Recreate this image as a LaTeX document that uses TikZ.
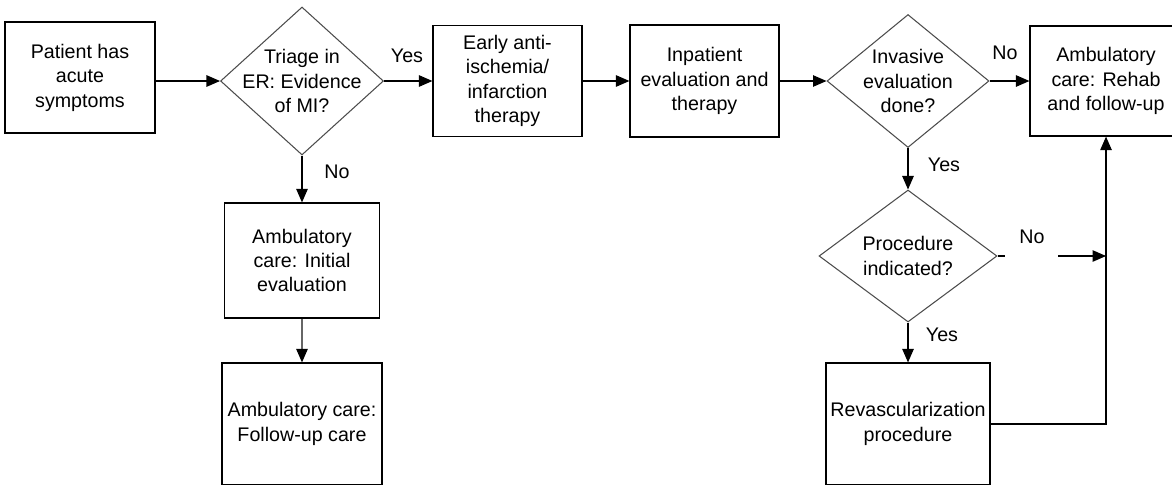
\documentclass[tikz,border=0pt]{standalone}
\usepackage{fontspec}
\setmainfont{Liberation Sans}
\usetikzlibrary{shapes.geometric,arrows.meta}
\begin{document}
\begin{tikzpicture}[x=0.02cm,y=-0.02cm]
\tikzstyle{txt} = [font=\fontsize{11.2}{13.9}\selectfont]
\tikzstyle{box} = [txt,draw=black,line width=0.7pt,align=center,inner sep=2pt]
\tikzstyle{test} = [txt,diamond,draw=black!70,line width=0.6pt,align=center,inner sep=-15pt]
\tikzstyle{arr} = [line width=0.6pt,arrows=-{Triangle[length=0.27cm,width=0.23cm,color=black]}]

\useasboundingbox (0,0) rectangle (1172,484);
\clip (0,0) rectangle (1172,484);

\node[box,minimum width=3cm,minimum height=2.22cm] (pat) at (80,77.5) {Patient has\\acute\\symptoms};
\node[test,minimum width=3.26cm,minimum height=2.96cm] (tri) at (302,81) {Triage in\\ER: Evidence\\of MI?};
\node[box,minimum width=2.98cm,minimum height=2.22cm] (ear) at (507.5,81) {Early anti-\\ischemia/\\infarction\\therapy};
\node[box,minimum width=2.98cm,minimum height=2.24cm] (inp) at (704.5,81) {Inpatient\\evaluation and\\therapy};
\node[test,minimum width=3.24cm,minimum height=2.66cm] (inv) at (908,81) {Invasive\\evaluation\\done?};
\node[box,minimum width=3.04cm,minimum height=2.2cm] (reh) at (1106,81) {Ambulatory\\care: Rehab\\and follow-up};
\node[box,minimum width=3.1cm,minimum height=2.3cm] (ini) at (302,260.5) {Ambulatory\\care: Initial\\evaluation};
\node[box,minimum width=3.2cm,minimum height=2.44cm] (fol) at (302,424) {Ambulatory care:\\Follow-up care};
\node[test,minimum width=3.56cm,minimum height=2.64cm] (pro) at (908,256) {Procedure\\indicated?};
\node[box,minimum width=3.28cm,minimum height=2.44cm] (rev) at (908,424) {Revascularization\\procedure};

\node[txt] (yes1) at (407,56) {Yes};
\node[txt] (no1) at (337,172) {No};
\node[txt] (no2) at (1005,53) {No};
\node[txt] (yes2) at (944,165) {Yes};
\node[txt] (no3) at (1032,237) {No};
\node[txt] (yes3) at (942,335) {Yes};

\coordinate (nst) at (1005,256);
\coordinate (nbg) at (1058,256);
\coordinate (nj) at (reh.south |- pro.east);

\draw[arr] (pat.east |- tri.west) -- (tri.west);
\draw[arr] (tri.east) -- (ear.west);
\draw[arr] (ear.east) -- (inp.west);
\draw[arr] (inp.east) -- (inv.west);
\draw[arr] (inv.east) -- (reh.west);
\draw[arr] (tri.south) -- (ini.north);
\draw[arr,draw=black!60] (ini.south) -- (fol.north);
\draw[arr] (inv.south) -- (pro.north);
\draw[arr] (pro.south) -- (rev.north);
\draw[line width=0.6pt] (pro.east) -- (nst);
\draw[arr] (nbg) -- (nj);
\draw[arr] (rev.east) -| (reh.south);
\end{tikzpicture}
\end{document}
